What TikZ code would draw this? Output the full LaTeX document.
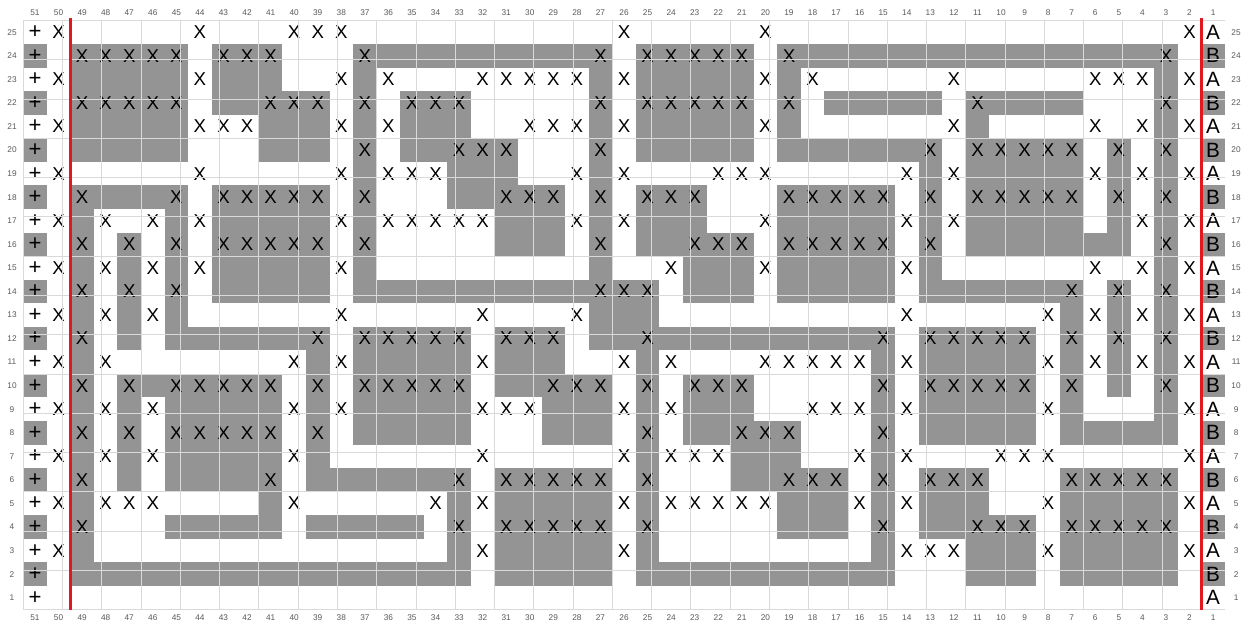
\documentclass[tikz,border=0pt]{standalone}
\usepackage{fontspec}
\setmainfont{Liberation Sans}

\definecolor{abu}{gray}{0.58}
\definecolor{garis}{gray}{0.85}
\definecolor{merah}{RGB}{225,25,30}

% Pola: - kosong, x silang, g abu, G abu dengan silang
\def\gambarsel#1{%
  \if#1g\fill[abu] (51-\kol,\baris-1) rectangle ++(1,1);\fi
  \if#1G\fill[abu] (51-\kol,\baris-1) rectangle ++(1,1);
    \node[silang] (s\baris-\kol) at (51.5-\kol,\baris-0.5) {X};\fi
  \if#1x\node[silang] (s\baris-\kol) at (51.5-\kol,\baris-0.5) {X};\fi}
\def\bacabaris#1{%
  \ifx#1\relax\else
    \gambarsel#1%
    \pgfmathtruncatemacro\kol{\kol-1}%
    \expandafter\bacabaris
  \fi}

\begin{document}
\begin{tikzpicture}[x=0.6cm,y=0.6cm,
    silang/.style={font=\fontsize{13.5}{14}\selectfont,inner sep=0pt},
    tambah/.style={font=\fontsize{16}{16}\selectfont,inner sep=0pt},
    huruf/.style={font=\fontsize{15}{15}\selectfont,inner sep=0pt},
    nomor/.style={font=\fontsize{6}{6}\selectfont,text=black!65,inner sep=0pt}]
  \def\kolom{51}
  \def\jml{25}

  % Batas gambar
  \useasboundingbox[fill=white] (-0.985,-0.69) rectangle (51.77,25.87);

  % Pola baris (kolom 50 sampai 2)
  \foreach \baris/\pola in {
    25/x-----x--- xxx------- ----x----- x--------- --------x,
    24/-GGGGG-GGG ---Ggggggg gggG-GGGGG -Ggggggggg gggggggG-,
    23/xgggggxggg --xgx---xx xxxgxggggg xgx-----x- ----xxxgx,
    22/-GGGGG-ggG GG-G-GGG-- ---G-GGGGG -G-ggggg-G gggg---G-,
    21/xgggggxxxg ggxgxggg-- xxxgxggggg xg------xg ----x-xgx,
    20/-ggggg---g gg-G-ggGGG ---G-ggggg -ggggggG-G GGGG-G-G-,
    19/x-----x--- --xgxxxggg --xgx---xx x-----xgxg ggggxgxgx,
    18/-GgggG-GGG GG-G---ggG GG-G-GGG-- -GGGGG-G-G GGGG-G-G-,
    17/xgx-xgxggg ggxgxxxxxg ggxgxggg-- xgggggxgxg gggg-gxgx,
    16/-G-G-G-GGG GG-G-----g gg-G-ggGGG -GGGGG-G-g gggggg-G-,
    15/xgxgxgxggg ggxg------ ---g--xggg xgggggxg-- ----x-xgx,
    14/-G-G-G-ggg gg-ggggggg gggGGG-ggg -ggggg-ggg gggG-G-G-,
    13/xgxgxg---- --x-----x- --xggg---- ------x--- --xgxgxgx,
    12/-G-g-ggggg gG-GGGGG-G GG-ggGgggg gggggG-GGG GG-G-G-G-,
    11/xgx------- xgxgggggxg gg--xgx--- xxxxxgxggg ggxgxgxgx,
    10/-G-GgGGGGG -G-GGGGG-g gGGG-G-GGG -----G-GGG GG-G-g-G-,
    9/xgxgxggggg xgxgggggxx xgggxgxggg --xxxgxggg ggxg---gx,
    8/-G-G-GGGGG -G-ggggg-- -ggg-G-ggG GG---G-ggg gg-ggggg-,
    7/xgxgxggggg xg------x- ----xgxxxg gg--xgx--- xxx-----x,
    6/-G-g-ggggG -ggggggG-G GGGG-G---g gGGG-G-GGG ---GGGGG-,
    5/xgxxx----g x-----xgxg ggggxgxxxx xgggxgxggg --xgggggx,
    4/-G---ggggg -ggggg-G-G GGGG-G---- -ggg-G-ggG GG-GGGGG-,
    3/xg-------- -------gxg ggggxg---- -----gxxxg ggxgggggx,
    2/-ggggggggg gggggggg-g gggg-ggggg gggggg---g gg-ggggg-}
  {
    \def\kol{50}
    \expandafter\bacabaris\pola\relax
  }

  % Kolom tepi (51 dan 1)
  \foreach \b in {1,...,\jml}
  {
    \ifodd\b\relax
      \def\sisi{A}
    \else
      \def\sisi{B}
      \fill[abu] (0,\b-1) rectangle ++(1,1);
      \fill[abu] (50,\b-1) rectangle ++(1,1);
    \fi
    \node[tambah] (plus-\b) at (0.5,\b-0.5) {+};
    \node[huruf] (ab-\b) at (50.5,\b-0.5) {\sisi};
  }

  % Garis kotak
  \draw[garis,line width=0.5pt] (0,0) grid (\kolom,\jml);

  % Nomor kolom dan baris
  \foreach \k in {1,...,\kolom}
  {
    \node[nomor] (atas-\k) at (51.5-\k,25.35) {\k};
    \node[nomor] (bawah-\k) at (51.5-\k,-0.335) {\k};
  }
  \foreach \b in {1,...,\jml}
  {
    \node[nomor] (kiri-\b) at (-0.475,\b-0.5) {\b};
    \node[nomor] (kanan-\b) at (51.475,\b-0.5) {\b};
  }

  % Garis merah
  \draw[merah,line width=2pt] (2,0) -- (2,25.1);
  \draw[merah,line width=2pt] (50,0) -- (50,25.1);
\end{tikzpicture}
\end{document}
